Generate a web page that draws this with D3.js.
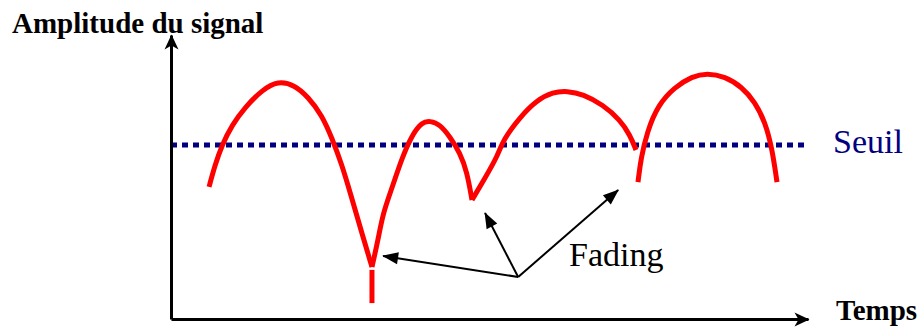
<!DOCTYPE html>
<html>
<head>
<meta charset="utf-8">
<script src="https://cdn.jsdelivr.net/npm/d3@7"></script>
<style>
  body { margin: 0; background: #fff; }
  svg { display: block; font-family: 'Liberation Serif', 'Times New Roman', serif; }
</style>
</head>
<body>
<div id="chart"></div>
<script>
// arcs of the signal (t = time, a = amplitude), split at the fading cusps
var arc1 = [
    { t: 5.97, a: 46.5 }, { t: 6.91, a: 54.2 }, { t: 8.01, a: 61.3 }, { t: 9.58, a: 68.3 },
    { t: 11.62, a: 74.6 }, { t: 14.29, a: 80.6 }, { t: 16.8, a: 83.9 }, { t: 19.47, a: 82.3 },
    { t: 21.51, a: 78.2 }, { t: 23.7, a: 71.8 }, { t: 25.27, a: 63.7 }, { t: 26.84, a: 54.2 },
    { t: 28.1, a: 44.7 }, { t: 30.14, a: 28.9 }, { t: 31.55, a: 18.3 }
]
var arc2 = [
    { t: 31.55, a: 18.3 }, { t: 32.5, a: 27.8 }, { t: 33.28, a: 37.3 }, { t: 34.69, a: 46.1 },
    { t: 36.26, a: 56.7 }, { t: 37.83, a: 64.8 }, { t: 39.4, a: 69.3 }, { t: 40.66, a: 69.8 },
    { t: 42.23, a: 68.5 }, { t: 43.8, a: 64.1 }, { t: 45.37, a: 58.5 }, { t: 46.47, a: 51.8 },
    { t: 47.25, a: 41.9 }
]
var arc3 = [
    { t: 47.25, a: 41.9 }, { t: 49.29, a: 49.6 }, { t: 51.33, a: 57.7 }, { t: 52.12, a: 63.0 },
    { t: 54.79, a: 71.1 }, { t: 57.46, a: 77.1 }, { t: 59.97, a: 79.9 }, { t: 62.17, a: 80.3 },
    { t: 64.68, a: 79.2 }, { t: 67.82, a: 75.4 }, { t: 70.49, a: 70.1 }, { t: 72.06, a: 64.8 },
    { t: 73.0, a: 59.5 }
]
var arc4 = [
    { t: 73.31, a: 48.2 }, { t: 73.78, a: 56.7 }, { t: 74.73, a: 65.8 }, { t: 76.45, a: 75.4 },
    { t: 79.12, a: 81.7 }, { t: 81.79, a: 85.4 }, { t: 84.14, a: 86.6 }, { t: 86.97, a: 85.4 },
    { t: 89.64, a: 81.7 }, { t: 91.68, a: 76.4 }, { t: 93.25, a: 69.4 }, { t: 94.35, a: 60.2 },
    { t: 95.13, a: 48.2 }
]
// petit trait sous le premier fading
var stub = [{ t: 31.55, a: 17.3 }, { t: 31.55, a: 5.6 }]

var seuil = 61.3
var fadingOrigin = { t: 54.5, a: 14.8 }
var fadingTargets = [{ t: 33.3, a: 22.2 }, { t: 49.3, a: 37.3 }, { t: 70.2, a: 45.4 }]

var labels = { y: 'Amplitude du signal', x: 'Temps', seuil: 'Seuil', fading: 'Fading' }

var width = 923,
    height = 329

var x = d3.scaleLinear().domain([0, 100]).range([171, 808])
var y = d3.scaleLinear().domain([0, 100]).range([319, 35])

var svg = d3.select('#chart').append('svg').attr('width', width).attr('height', height)

var defs = svg.append('defs')
// fleche des axes
defs.append('marker')
    .attr('id', 'axisHead')
    .attr('markerUnits', 'userSpaceOnUse')
    .attr('viewBox', '-16 -8 18 16')
    .attr('markerWidth', 18)
    .attr('markerHeight', 16)
    .attr('refX', 0)
    .attr('refY', 0)
    .attr('orient', 'auto')
    .append('path')
    .attr('d', 'M1,0 L-14,-7 L-10,0 L-14,7 Z')
    .attr('fill', '#000')
// fleche des annotations
defs.append('marker')
    .attr('id', 'noteHead')
    .attr('markerUnits', 'userSpaceOnUse')
    .attr('viewBox', '-16 -7 18 14')
    .attr('markerWidth', 18)
    .attr('markerHeight', 14)
    .attr('refX', 0)
    .attr('refY', 0)
    .attr('orient', 'auto')
    .append('path')
    .attr('d', 'M1,0 L-15,-6 L-15,6 Z')
    .attr('fill', '#000')

// seuil
svg.append('line')
    .attr('x1', x(0)).attr('x2', x(99.8))
    .attr('y1', y(seuil)).attr('y2', y(seuil))
    .attr('stroke', '#000080')
    .attr('stroke-width', 5)
    .attr('stroke-dasharray', '6,5')

// axes
svg.append('g')
    .attr('transform', 'translate(0,' + y(0) + ')')
    .call(d3.axisBottom(x).tickValues([]).tickSizeOuter(0))
svg.append('g')
    .attr('transform', 'translate(' + x(0) + ',0)')
    .call(d3.axisLeft(y).tickValues([]).tickSizeOuter(0))
svg.selectAll('.domain')
    .attr('stroke', '#000')
    .attr('stroke-width', 3)
    .attr('marker-end', 'url(#axisHead)')

// signal
var line = d3.line()
    .x(function (d) { return x(d.t) })
    .y(function (d) { return y(d.a) })
    .curve(d3.curveBasis)

svg.selectAll('.arc')
    .data([arc1, arc2, arc3, arc4])
    .enter()
    .append('path')
    .attr('class', 'arc')
    .attr('d', line)
    .attr('fill', 'none')
    .attr('stroke', '#ff0000')
    .attr('stroke-width', 5)
    .attr('stroke-linejoin', 'round')

svg.append('path')
    .attr('d', d3.line().x(function (d) { return x(d.t) }).y(function (d) { return y(d.a) })(stub))
    .attr('fill', 'none')
    .attr('stroke', '#ff0000')
    .attr('stroke-width', 5)

// fleches fading
svg.selectAll('.note')
    .data(fadingTargets)
    .enter()
    .append('line')
    .attr('class', 'note')
    .attr('x1', x(fadingOrigin.t))
    .attr('y1', y(fadingOrigin.a))
    .attr('x2', function (d) { return x(d.t) })
    .attr('y2', function (d) { return y(d.a) })
    .attr('stroke', '#000')
    .attr('stroke-width', 2)
    .attr('marker-end', 'url(#noteHead)')

// textes
svg.append('text')
    .attr('x', 12).attr('y', 33)
    .style('font-size', '29px').style('font-weight', 'bold')
    .text(labels.y)
svg.append('text')
    .attr('x', 836).attr('y', 320)
    .style('font-size', '29px').style('font-weight', 'bold')
    .text(labels.x)
svg.append('text')
    .attr('x', 833).attr('y', 153)
    .style('font-size', '34px')
    .attr('fill', '#000080')
    .text(labels.seuil)
svg.append('text')
    .attr('x', 569).attr('y', 266)
    .style('font-size', '34px')
    .attr('fill', '#000')
    .text(labels.fading)
</script>
</body>
</html>
